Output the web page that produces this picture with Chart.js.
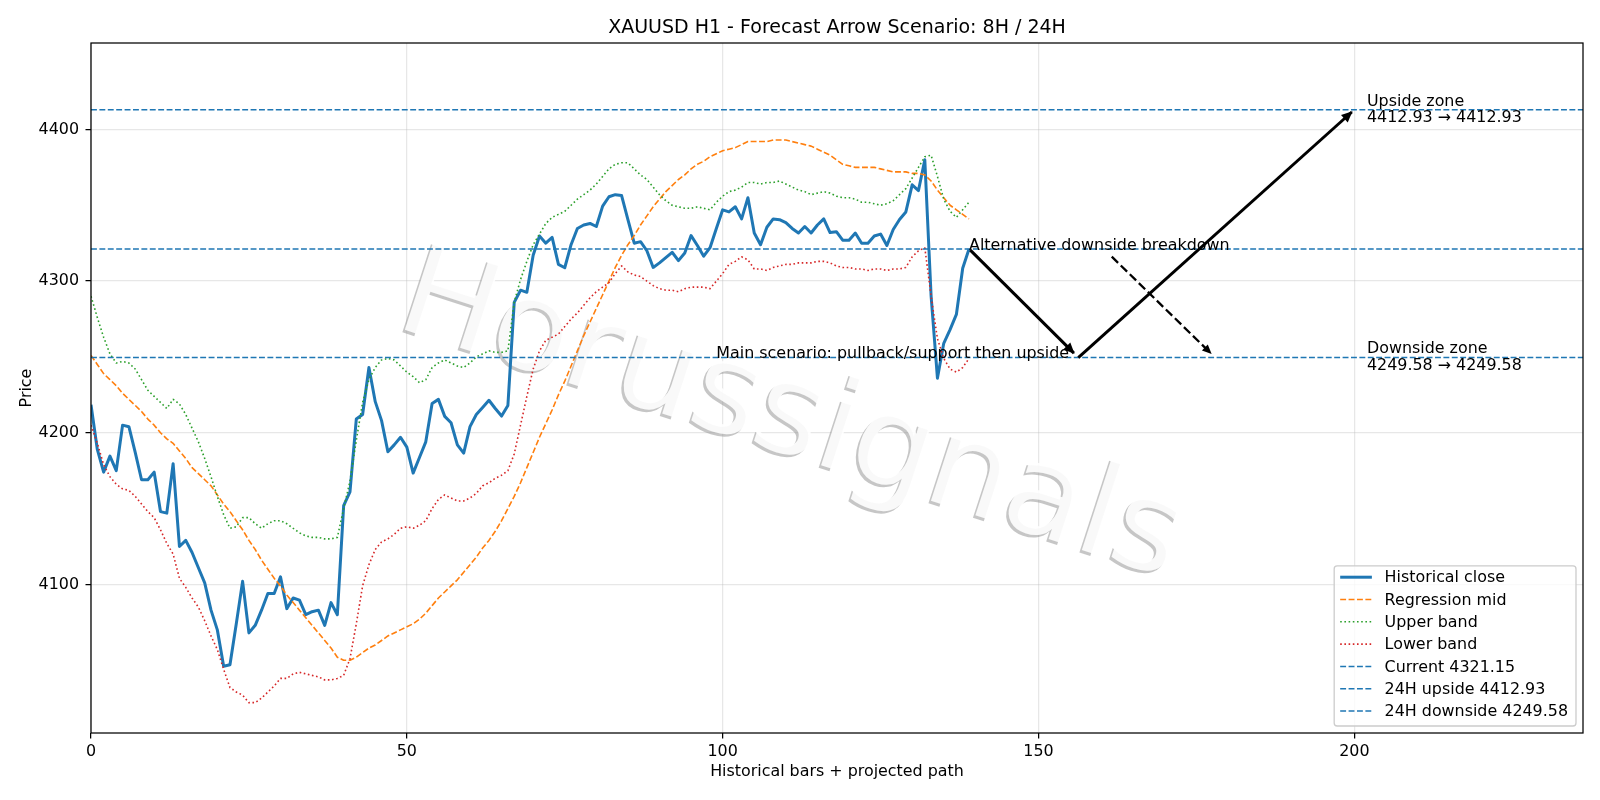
<!DOCTYPE html>
<html>
<head>
<meta charset="utf-8">
<script src="https://cdn.jsdelivr.net/npm/chart.js@4.4.1/dist/chart.umd.min.js"></script>
<style>
  html, body { margin: 0; padding: 0; background: #ffffff; }
  #wrap { width: 1600px; height: 800px; }
</style>
</head>
<body>
<div id="wrap"><canvas id="forecast-chart" width="1600" height="800"></canvas></div>
<script>
// values (bar index 0..139)
const closeValues = [
  4218.4, 4189, 4174, 4184.6, 4175, 4205, 4204, 4187, 4169, 4169,
  4174, 4148, 4147, 4179.6, 4125, 4129, 4121, 4111, 4101, 4083,
  4070, 4046, 4047, 4074, 4102, 4068, 4073, 4083, 4094, 4094,
  4105, 4084, 4091, 4089.6, 4080, 4082, 4083, 4073, 4088, 4080,
  4152, 4161, 4209, 4212, 4243, 4220.5, 4208, 4187.5, 4192, 4197,
  4190.5, 4173.4, 4183.7, 4194, 4219.3, 4222, 4210.8, 4206.6, 4192, 4186.6,
  4204, 4212, 4216.7, 4221.4, 4216, 4211, 4218, 4286, 4294, 4292.6,
  4317, 4329.7, 4325, 4328.8, 4311, 4308.8, 4324, 4334.7, 4337, 4338,
  4336, 4349.4, 4355.6, 4357, 4356.4, 4340.6, 4325, 4326, 4320, 4309,
  4312, 4315.5, 4319, 4313.5, 4318.5, 4330, 4323.5, 4316.4, 4322, 4334.7,
  4347, 4345.6, 4349, 4341, 4355, 4331.7, 4324, 4335.5, 4341, 4340.5,
  4338.5, 4334.7, 4331.7, 4336, 4331.7, 4337, 4341, 4332, 4332.6, 4327,
  4327, 4331.7, 4325, 4325, 4329.7, 4331, 4323.5, 4334, 4340.6, 4345.6,
  4363.5, 4359.7, 4380, 4290, 4236, 4259, 4268, 4278, 4308.5, 4321.15
];

const regressionMid = [
  4251, 4245, 4239, 4235, 4231, 4226, 4222, 4218, 4214, 4209,
  4205, 4200, 4196, 4193, 4188, 4183, 4177, 4173, 4169, 4165,
  4159, 4153, 4148, 4142, 4136, 4129, 4123, 4116, 4110, 4104,
  4099, 4093, 4088, 4083, 4078, 4073, 4068, 4063, 4058, 4052,
  4050, 4050, 4052, 4055, 4058, 4060, 4063, 4066, 4068, 4070,
  4072, 4074, 4077, 4081, 4086, 4091, 4095, 4099, 4103, 4108,
  4113, 4118, 4124, 4129, 4135, 4142, 4150, 4158, 4167, 4177,
  4187, 4197, 4206, 4215, 4225, 4234, 4244, 4254, 4264, 4273,
  4282, 4291, 4300, 4309, 4317, 4324, 4330, 4337, 4343, 4349,
  4354, 4359, 4363, 4367, 4370, 4374, 4377, 4379, 4382, 4384,
  4386, 4387, 4388, 4390, 4392, 4392, 4392, 4392, 4393, 4393,
  4393, 4392, 4391, 4390, 4389, 4387, 4385, 4383, 4380, 4377,
  4376, 4375, 4375, 4375, 4375, 4374, 4373, 4372, 4372, 4372,
  4371, 4371, 4370, 4366, 4360, 4355, 4350, 4347, 4344, 4341
];

const upperBand = [
  4290, 4276, 4263, 4252, 4246, 4247, 4246, 4242, 4235, 4228,
  4224, 4220, 4216, 4222, 4219, 4212, 4203, 4194, 4183, 4171,
  4158, 4146, 4137, 4138, 4144, 4144, 4140, 4137, 4140, 4142,
  4142, 4140, 4137, 4134, 4132, 4131, 4131, 4130, 4130, 4131,
  4150, 4168, 4195, 4220, 4235, 4243, 4248, 4249, 4248, 4244,
  4240, 4237, 4233, 4235, 4243, 4246, 4248, 4246, 4244, 4243,
  4246, 4250, 4252, 4254, 4253, 4253, 4254, 4286, 4301, 4313,
  4324, 4331, 4338, 4342, 4344, 4346, 4350, 4354, 4357, 4360,
  4364, 4369, 4374, 4377, 4378, 4378, 4374, 4370, 4367, 4362,
  4357, 4353, 4350, 4349, 4348, 4348, 4349, 4348, 4347, 4352,
  4356, 4359, 4360, 4362, 4365, 4365, 4364, 4365, 4365, 4366,
  4364, 4362, 4360, 4359, 4357, 4358, 4359, 4358, 4356, 4355,
  4355, 4354, 4352, 4352, 4351, 4350, 4351, 4353, 4357, 4361,
  4368, 4375, 4382, 4383, 4369, 4354, 4346, 4342, 4347, 4352
];

const lowerBand = [
  4205, 4193, 4179, 4171, 4166, 4163, 4162, 4158, 4153, 4148,
  4144, 4136, 4127, 4120, 4104, 4098, 4091, 4085, 4076, 4066,
  4057, 4044, 4032, 4029, 4027, 4022, 4022, 4025, 4029, 4033,
  4038, 4038, 4041, 4042, 4041, 4040, 4039, 4037, 4037, 4038,
  4040, 4051, 4074, 4099, 4113, 4123, 4128, 4130, 4133, 4137,
  4138, 4137, 4139, 4142, 4150, 4156, 4159, 4157, 4155, 4155,
  4157, 4160, 4165, 4167, 4170, 4172, 4175, 4186, 4205, 4224,
  4242, 4254, 4261, 4263, 4265, 4270, 4275, 4279, 4284, 4289,
  4293, 4296, 4299, 4305, 4310, 4306, 4304, 4303, 4300, 4297,
  4295, 4294, 4294, 4293, 4295, 4296, 4296, 4296, 4295, 4300,
  4305, 4311, 4313, 4316, 4314, 4308, 4308, 4307, 4309, 4310,
  4311, 4311, 4312, 4312, 4312, 4313, 4313, 4312, 4310, 4309,
  4309, 4308, 4308, 4307, 4308, 4308, 4307, 4308, 4308, 4309,
  4316, 4320, 4322, 4290, 4262, 4249, 4242, 4240, 4243, 4249
];

const currentPrice = 4321.15;
const upsideLevel = 4412.93;
const downsideLevel = 4249.58;

// projected path legs: [x0, x1] / [y0, y1]
const mainLegOneX = [139.2, 155.6];
const mainLegOneY = [4320.4, 4252.5];
const mainLegTwoX = [156.3, 199.6];
const mainLegTwoY = [4249.6, 4411.5];
const altLegX = [161.6, 177.3];
const altLegY = [4316.1, 4252.3];

const xRange = [0, 236.2];
const yRange = [4002, 4457];
const xStep = 50;
const yStep = 100;

const FONT = '"DejaVu Sans", "Liberation Sans", sans-serif';
const FS = 15.9;      // 10pt at this figure's dpi
const BLUE = '#1f77b4';
const DASH = [5.9, 2.5];
const DOT = [1.6, 2.6];

const toPoints = (xs, ys) => xs.map((x, i) => ({ x: x, y: ys[i] }));
const seriesPoints = (ys) => ys.map((y, i) => ({ x: i, y: y }));
const flatLine = (level) => toPoints(xRange, [level, level]);

const datasets = [
    {
        label: 'Historical close',
        data: seriesPoints(closeValues),
        borderColor: BLUE,
        borderWidth: 3.0,
        order: 10
    },
    {
        label: 'Regression mid',
        data: seriesPoints(regressionMid),
        borderColor: '#ff7f0e',
        borderWidth: 1.6,
        borderDash: DASH,
        order: 9
    },
    {
        label: 'Upper band',
        data: seriesPoints(upperBand),
        borderColor: '#2ca02c',
        borderWidth: 1.6,
        borderDash: DOT,
        order: 8
    },
    {
        label: 'Lower band',
        data: seriesPoints(lowerBand),
        borderColor: '#d62728',
        borderWidth: 1.6,
        borderDash: DOT,
        order: 7
    },
    {
        label: 'Current ' + currentPrice.toFixed(2),
        data: flatLine(currentPrice),
        borderColor: BLUE,
        borderWidth: 1.5,
        borderDash: DASH,
        order: 6
    },
    {
        label: '24H upside ' + upsideLevel.toFixed(2),
        data: flatLine(upsideLevel),
        borderColor: BLUE,
        borderWidth: 1.5,
        borderDash: DASH,
        order: 5
    },
    {
        label: '24H downside ' + downsideLevel.toFixed(2),
        data: flatLine(downsideLevel),
        borderColor: BLUE,
        borderWidth: 1.5,
        borderDash: DASH,
        order: 4
    },
    {
        label: 'main-1',
        arrow: { len: 10, half: 5 },
        data: toPoints(mainLegOneX, mainLegOneY),
        borderColor: '#000000',
        borderWidth: 3.0,
        order: 2
    },
    {
        label: 'main-2',
        arrow: { len: 10, half: 5 },
        data: toPoints(mainLegTwoX, mainLegTwoY),
        borderColor: '#000000',
        borderWidth: 3.0,
        order: 2
    },
    {
        label: 'alt',
        arrow: { len: 8.5, half: 4.2 },
        data: toPoints(altLegX, altLegY),
        borderColor: '#000000',
        borderWidth: 2.3,
        borderDash: [8.8, 3.8],
        order: 1
    }
];

datasets.forEach(ds => {
    ds.pointRadius = 0;
    ds.pointHoverRadius = 0;
    ds.fill = false;
    ds.tension = 0;
    ds.borderJoinStyle = 'round';
    ds.borderCapStyle = 'butt';
});

const annotationTexts = [
    { x: 99, y: downsideLevel, lines: ['Main scenario: pullback/support then upside'] },
    { x: 139, y: currentPrice, lines: ['Alternative downside breakdown'] },
    { x: 202, y: upsideLevel, lines: ['Upside zone', upsideLevel.toFixed(2) + ' \u2192 ' + upsideLevel.toFixed(2)], centered: true },
    { x: 202, y: downsideLevel, lines: ['Downside zone', downsideLevel.toFixed(2) + ' \u2192 ' + downsideLevel.toFixed(2)], centered: true }
];

const decorations = {
    id: 'decorations',
    beforeDatasetsDraw(chart) {
        // watermark
        const ctx = chart.ctx;
        const area = chart.chartArea;
        ctx.save();
        ctx.beginPath();
        ctx.rect(area.left, area.top, area.right - area.left, area.bottom - area.top);
        ctx.clip();
        ctx.translate(393, 326);
        ctx.rotate(18 * Math.PI / 180);
        ctx.font = '127px ' + FONT;
        ctx.textAlign = 'left';
        ctx.textBaseline = 'alphabetic';
        ctx.shadowColor = 'rgba(150,150,150,0.6)';
        ctx.shadowOffsetX = -2.5;
        ctx.shadowOffsetY = 2.5;
        ctx.shadowBlur = 0.5;
        ctx.fillStyle = 'rgba(255,255,255,0.9)';
        ctx.fillText('Horussignals', 0, 0);
        ctx.restore();
    },
    afterDatasetsDraw(chart) {
        const ctx = chart.ctx;
        const xs = chart.scales.x;
        const ys = chart.scales.y;

        // arrow heads on the projected path legs
        chart.data.datasets.forEach(ds => {
            if (!ds.arrow) return;
            const p0 = ds.data[0], p1 = ds.data[ds.data.length - 1];
            const x0 = xs.getPixelForValue(p0.x), y0 = ys.getPixelForValue(p0.y);
            const x1 = xs.getPixelForValue(p1.x), y1 = ys.getPixelForValue(p1.y);
            const a = Math.atan2(y1 - y0, x1 - x0);
            ctx.save();
            ctx.translate(x1, y1);
            ctx.rotate(a);
            ctx.beginPath();
            ctx.moveTo(1, 0);
            ctx.lineTo(-ds.arrow.len, -ds.arrow.half);
            ctx.lineTo(-ds.arrow.len, ds.arrow.half);
            ctx.closePath();
            ctx.fillStyle = ds.borderColor;
            ctx.fill();
            ctx.restore();
        });

        // text annotations
        ctx.save();
        ctx.font = FS + 'px ' + FONT;
        ctx.fillStyle = '#000000';
        ctx.textAlign = 'left';
        ctx.textBaseline = 'alphabetic';
        annotationTexts.forEach(t => {
            const px = xs.getPixelForValue(t.x);
            const py = ys.getPixelForValue(t.y);
            if (t.centered) {
                ctx.fillText(t.lines[0], px, py - 4.3);
                ctx.fillText(t.lines[1], px, py + 12.4);
            } else {
                ctx.fillText(t.lines[0], px, py + 0.5);
            }
        });
        ctx.restore();
    },
    afterDraw(chart) {
        const ctx = chart.ctx;
        const area = chart.chartArea;
        ctx.save();

        // spines
        ctx.strokeStyle = '#000000';
        ctx.lineWidth = 1.25;
        ctx.strokeRect(area.left, area.top, area.right - area.left, area.bottom - area.top);

        // title and axis labels
        const cx = (area.left + area.right) / 2;
        ctx.fillStyle = '#000000';
        ctx.textAlign = 'center';
        ctx.textBaseline = 'alphabetic';
        ctx.font = '19px ' + FONT;
        ctx.fillText('XAUUSD H1 - Forecast Arrow Scenario: 8H / 24H', cx, 32.5);
        ctx.font = FS + 'px ' + FONT;
        ctx.fillText('Historical bars + projected path', cx, 776);
        ctx.save();
        ctx.translate(31, (area.top + area.bottom) / 2);
        ctx.rotate(-Math.PI / 2);
        ctx.fillText('Price', 0, 0);
        ctx.restore();

        // legend, lower right
        const items = chart.data.datasets.filter(ds => !ds.arrow);
        ctx.font = FS + 'px ' + FONT;
        const textW = Math.max(...items.map(ds => ctx.measureText(ds.label).width));
        const rowH = 22.3;
        const right = area.right - 7;
        const bottom = area.bottom - 7;
        const boxW = 6 + 31.7 + 12.7 + textW + 8;
        const boxH = rowH * items.length + 4;
        const left = right - boxW;
        const top = bottom - boxH;
        ctx.beginPath();
        ctx.roundRect(left, top, boxW, boxH, 3);
        ctx.fillStyle = 'rgba(255,255,255,0.8)';
        ctx.fill();
        ctx.strokeStyle = '#cccccc';
        ctx.lineWidth = 1.3;
        ctx.stroke();

        ctx.textAlign = 'left';
        ctx.textBaseline = 'middle';
        items.forEach((ds, i) => {
            const y = bottom - 15 - (items.length - 1 - i) * rowH;
            ctx.beginPath();
            ctx.setLineDash(ds.borderDash || []);
            ctx.lineWidth = ds.borderWidth;
            ctx.strokeStyle = ds.borderColor;
            ctx.moveTo(left + 6, y);
            ctx.lineTo(left + 6 + 31.7, y);
            ctx.stroke();
            ctx.setLineDash([]);
            ctx.fillStyle = '#000000';
            ctx.fillText(ds.label, left + 6 + 31.7 + 12.7, y + 1);
        });
        ctx.restore();
    }
};

new Chart(document.getElementById('forecast-chart'), {
    type: 'line',
    data: { datasets: datasets },
    options: {
        responsive: false,
        devicePixelRatio: 1,
        animation: false,
        parsing: false,
        normalized: true,
        layout: {
            padding: { top: 43, right: 17, bottom: 0, left: 0 }
        },
        plugins: {
            legend: { display: false },
            title: { display: false },
            tooltip: { enabled: false }
        },
        events: [],
        scales: {
            x: {
                type: 'linear',
                min: xRange[0],
                max: xRange[1],
                afterFit(scale) { scale.height = 67; },
                border: { display: false },
                grid: {
                    color: 'rgba(176,176,176,0.3)',
                    lineWidth: 1.25,
                    tickColor: '#000000',
                    tickLength: 5.5,
                    tickWidth: 1.25
                },
                ticks: {
                    stepSize: xStep,
                    includeBounds: false,
                    maxRotation: 0,
                    padding: 3.5,
                    color: '#000000',
                    font: { family: FONT, size: FS }
                }
            },
            y: {
                type: 'linear',
                min: yRange[0],
                max: yRange[1],
                afterFit(scale) { scale.width = 91; },
                border: { display: false },
                grid: {
                    color: 'rgba(176,176,176,0.3)',
                    lineWidth: 1.25,
                    tickColor: '#000000',
                    tickLength: 5.5,
                    tickWidth: 1.25
                },
                ticks: {
                    stepSize: yStep,
                    includeBounds: false,
                    padding: 6.5,
                    color: '#000000',
                    font: { family: FONT, size: FS },
                    callback: (v) => String(v)
                }
            }
        }
    },
    plugins: [decorations]
});
</script>
</body>
</html>
